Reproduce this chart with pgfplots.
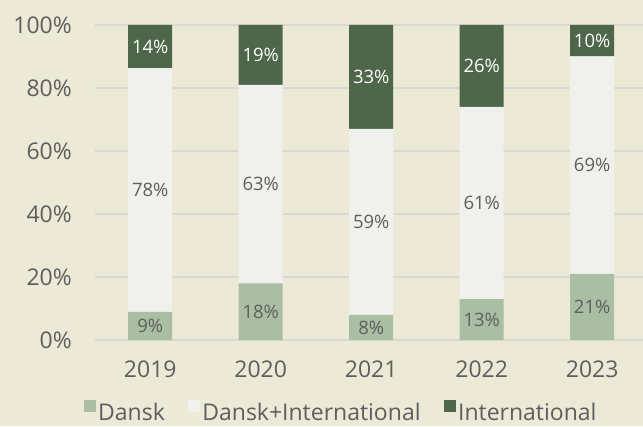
\documentclass[border=0pt]{standalone}
\usepackage{pgfplots}
\pgfplotsset{compat=1.18}
\usepackage{fontspec}
\setmainfont{Open Sans}
\definecolor{bg}{HTML}{ECEAD7}
\definecolor{dansk}{HTML}{A9BEA3}
\definecolor{mix}{HTML}{F0F1EC}
\definecolor{intl}{HTML}{4E6649}
\definecolor{txt}{HTML}{5E5E5E}
\definecolor{gridc}{HTML}{D9D9D3}
\begin{document}
\begin{tikzpicture}
\fill[bg] (-95pt,-86pt) rectangle (548pt,340pt);
\begin{axis}[
    at={(0,0)}, anchor=south west,
    scale only axis, width=548pt, height=315pt,
    ybar stacked, bar width=44pt,
    xmin=-0.5, xmax=4.46, ymin=0, ymax=100,
    xtick={0,1,2,3,4}, xticklabels={2019,2020,2021,2022,2023},
    ytick={0,20,40,60,80,100},
    yticklabels={0\%,20\%,40\%,60\%,80\%,100\%},
    ymajorgrids, grid style={gridc, line width=1.5pt},
    axis line style={draw=none}, tick style={draw=none},
    ticklabel style={font=\fontsize{23}{27}\selectfont, text=txt, inner sep=0pt},
    xticklabel style={anchor=north, yshift=-21pt},
    yticklabel style={anchor=east, xshift=-23pt},
    legend image code/.code={\fill[#1] (0pt,0pt) rectangle (12.5pt,12.5pt);},
    legend style={at={(0.449,-0.2667)}, anchor=south, draw=none, fill=none,
        inner sep=0pt, legend columns=3, font=\fontsize{23}{27}\selectfont,
        text=txt, /tikz/every even column/.append style={column sep=21pt}},
]
% Dansk
\addplot[fill=dansk, draw=none] coordinates {(0,8.9) (1,18) (2,8) (3,13) (4,21)};
% Dansk+International
\addplot[fill=mix, draw=none] coordinates {(0,77.4) (1,63) (2,59) (3,61) (4,69)};
% International
\addplot[fill=intl, draw=none] coordinates {(0,13.7) (1,19) (2,33) (3,26) (4,10)};
\legend{Dansk, Dansk+International, International}
\end{axis}
% labels centred in the segments
\begin{axis}[
    at={(0,0)}, anchor=south west,
    scale only axis, width=548pt, height=315pt,
    xmin=-0.5, xmax=4.46, ymin=0, ymax=100,
    hide axis,
    nodes near coords, point meta=explicit symbolic,
    every node near coord/.append style={anchor=center, inner sep=0pt,
        font=\fontsize{18.5}{22}\selectfont},
]
\addplot[draw=none, mark=none, every node near coord/.append style={text=txt}]
coordinates {(0,4.45)[9\%] (1,9)[18\%] (2,4)[8\%] (3,6.5)[13\%] (4,10.5)[21\%]};
\addplot[draw=none, mark=none, every node near coord/.append style={text=txt}]
coordinates {(0,47.6)[78\%] (1,49.5)[63\%] (2,37.5)[59\%] (3,43.5)[61\%] (4,55.5)[69\%]};
\addplot[draw=none, mark=none, every node near coord/.append style={text=white}]
coordinates {(0,93.15)[14\%] (1,90.5)[19\%] (2,83.5)[33\%] (3,87)[26\%] (4,95)[10\%]};
\end{axis}
\pgfresetboundingbox
\useasboundingbox (-95pt,-86pt) rectangle (548pt,340pt);
\end{tikzpicture}
\end{document}
